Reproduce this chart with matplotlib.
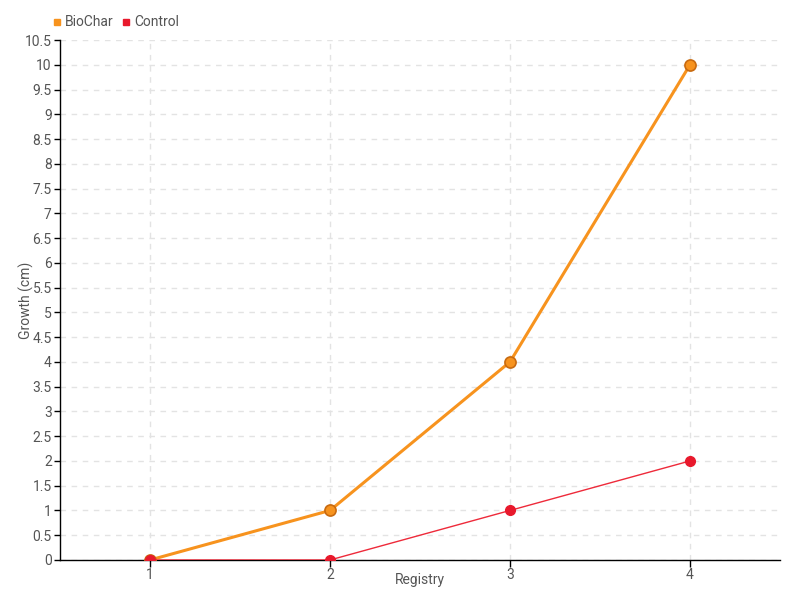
import matplotlib
matplotlib.use('Agg')
import matplotlib.pyplot as plt
from matplotlib.lines import Line2D

registry = [1, 2, 3, 4]
biochar = [0, 1, 4, 10]
control = [0, 0, 1, 2]
y_ticks = [i * 0.5 for i in range(22)]
y_labels = ['0', '0.5', '1', '1.5', '2', '2.5', '3', '3.5', '4', '4.5', '5', '5.5',
            '6', '6.5', '7', '7.5', '8', '8.5', '9', '9.5', '10', '10.5']

plt.rcParams['font.family'] = ['Roboto', 'DejaVu Sans']
text_color = '#555555'

fig = plt.figure(figsize=(8, 6), dpi=100)
ax = fig.add_axes([0.075, 0.0667, 0.9, 0.8666])

ax.plot(registry, biochar, color='#f7931e', lw=2.2, marker='o', ms=8,
        mfc='#f7931e', mec='#c86a10', mew=1.2, zorder=3)
ax.plot(registry, control, color='#ee2a3a', lw=1, marker='o', ms=7,
        mfc='#e8192c', mec='#e8192c', zorder=4)

ax.set_xlim(0.5, 4.5)
ax.set_ylim(0, 10.5)
ax.set_xticks(registry)
ax.set_xticklabels([str(r) for r in registry])
ax.set_yticks(y_ticks)
ax.set_yticklabels(y_labels)
ax.grid(True, color='#e3e3e3', linestyle=(0, (4, 4)), lw=1)
ax.set_axisbelow(True)

for s in ['top', 'right']:
    ax.spines[s].set_visible(False)
for s in ['left', 'bottom']:
    ax.spines[s].set_color('black')
    ax.spines[s].set_linewidth(1)
ax.tick_params(axis='both', colors='black', labelcolor=text_color, labelsize=10, length=5, width=1)
ax.tick_params(axis='x', pad=1)
ax.tick_params(axis='y', length=4, pad=2)

ax.set_xlabel('Registry', color=text_color, fontsize=10)
ax.set_ylabel('Growth (cm)', color=text_color, fontsize=10)
ax.xaxis.set_label_coords(0.5, -0.025)
ax.yaxis.set_label_coords(-0.036, 0.5)

handles = [Line2D([], [], ls='none', marker='s', ms=5, color='#f7931e'),
           Line2D([], [], ls='none', marker='s', ms=5, color='#e8192c')]
fig.legend(handles, ['BioChar', 'Control'], loc='upper left', bbox_to_anchor=(0.05, 0.995),
           ncol=2, frameon=False, handlelength=0.6, handletextpad=0.3, columnspacing=0.6,
           labelcolor=text_color, fontsize=10)

fig.savefig('out.png', dpi=100)
